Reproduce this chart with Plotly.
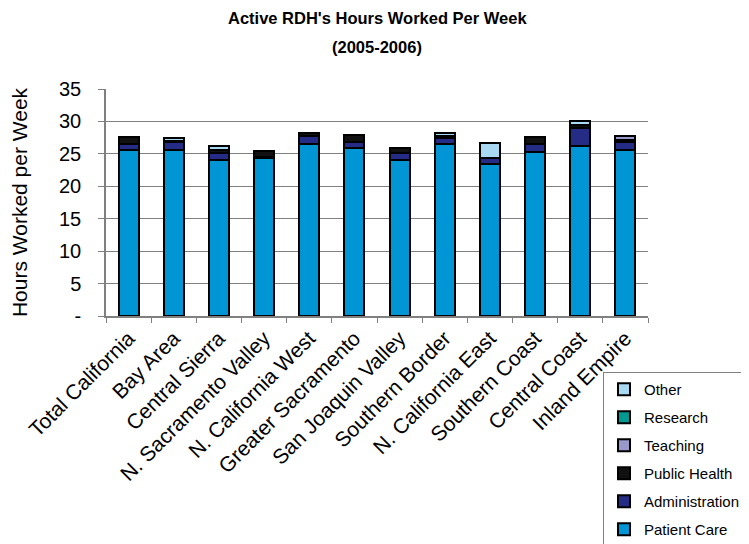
import plotly.graph_objects as go

regions = ["Total California", "Bay Area", "Central Sierra", "N. Sacramento Valley",
           "N. California West", "Greater Sacramento", "San Joaquin Valley",
           "Southern Border", "N. California East", "Southern Coast",
           "Central Coast", "Inland Empire"]

patient_care   = [25.6, 25.6, 24.0, 24.3, 26.5, 25.9, 24.0, 26.5, 23.4, 25.3, 26.2, 25.6]
administration = [0.9, 1.2, 1.2, 0.2, 1.2, 0.9, 1.2, 0.9, 0.9, 1.2, 2.8, 1.2]
public_health  = [1.1, 0.2, 0.4, 1.0, 0.5, 1.1, 0.7, 0.3, 0.1, 1.1, 0.4, 0.4]
teaching       = [0.0, 0.0, 0.0, 0.0, 0.0, 0.0, 0.0, 0.0, 0.0, 0.0, 0.0, 0.5]
research       = [0.0, 0.0, 0.0, 0.0, 0.0, 0.0, 0.0, 0.0, 0.0, 0.0, 0.0, 0.0]
other          = [0.0, 0.5, 0.6, 0.0, 0.0, 0.0, 0.0, 0.5, 2.3, 0.0, 0.7, 0.0]

series = [
    ("Patient Care", patient_care, "#0096D6"),
    ("Administration", administration, "#252C86"),
    ("Public Health", public_health, "#111111"),
    ("Teaching", teaching, "#9999CC"),
    ("Research", research, "#009990"),
    ("Other", other, "#A8D8F2"),
]

y_ticks = [0, 5, 10, 15, 20, 25, 30, 35]
y_labels = ["-", "5", "10", "15", "20", "25", "30", "35"]

title_line1 = "Active RDH's Hours Worked Per Week"
title_line2 = "(2005-2006)"

FONT = "Liberation Sans, Arial, sans-serif"

# page body has an 8px default margin; the figure is sized to fill the rest
OFF = 8
W, H = 749 - OFF, 544 - OFF
PL, PT, PR, PB = 106 - OFF, 89 - OFF, 648 - OFF, 316 - OFF
PH = PB - PT

fig = go.Figure()
n = len(series)
for i, (name, vals, col) in enumerate(series):
    fig.add_trace(go.Bar(
        x=regions, y=vals, name=name, legendgroup=name, legendrank=n - i,
        marker=dict(color=col, line=dict(color="#000000", width=2)),
    ))

fig.add_annotation(text="<b>" + title_line1 + "</b>", xref="paper", yref="paper",
                   x=0.5, y=1 + (PT - (18 - OFF)) / PH, xanchor="center", yanchor="middle",
                   showarrow=False, font=dict(family=FONT, size=16.5))
fig.add_annotation(text="<b>" + title_line2 + "</b>", xref="paper", yref="paper",
                   x=0.5, y=1 + (PT - (47 - OFF)) / PH, xanchor="center", yanchor="middle",
                   showarrow=False, font=dict(family=FONT, size=16.5))

fig.update_layout(
    width=W, height=H,
    barmode="stack", bargap=0.56,
    plot_bgcolor="white", paper_bgcolor="white",
    margin=dict(l=PL, r=W - PR, t=PT, b=H - PB, autoexpand=False),
    font=dict(family=FONT, size=20, color="black"),
    showlegend=True,
    legend=dict(xref="container", yref="container",
                x=(603 - OFF) / W, y=1 - (372 - OFF) / H, xanchor="left", yanchor="top",
                traceorder="grouped", tracegroupgap=5.5,
                bordercolor="#808080", borderwidth=1, bgcolor="white",
                font=dict(family=FONT, size=15)),
    xaxis=dict(showline=True, linecolor="#808080", linewidth=1.5, automargin=False,
               ticks="outside", tickson="boundaries", ticklen=5, tickcolor="#808080",
               tickangle=-45, tickfont=dict(size=21)),
    yaxis=dict(range=[0, 35], tickvals=y_ticks, ticktext=y_labels, automargin=False,
               showline=True, linecolor="#808080", linewidth=1.5,
               ticks="outside", ticklen=6, tickcolor="#808080",
               showgrid=True, gridcolor="#808080", gridwidth=1,
               ticklabelstandoff=13, tickfont=dict(size=20),
               title=dict(text="Hours Worked per Week", font=dict(size=21), standoff=29)),
)

fig.write_html("out.html")
